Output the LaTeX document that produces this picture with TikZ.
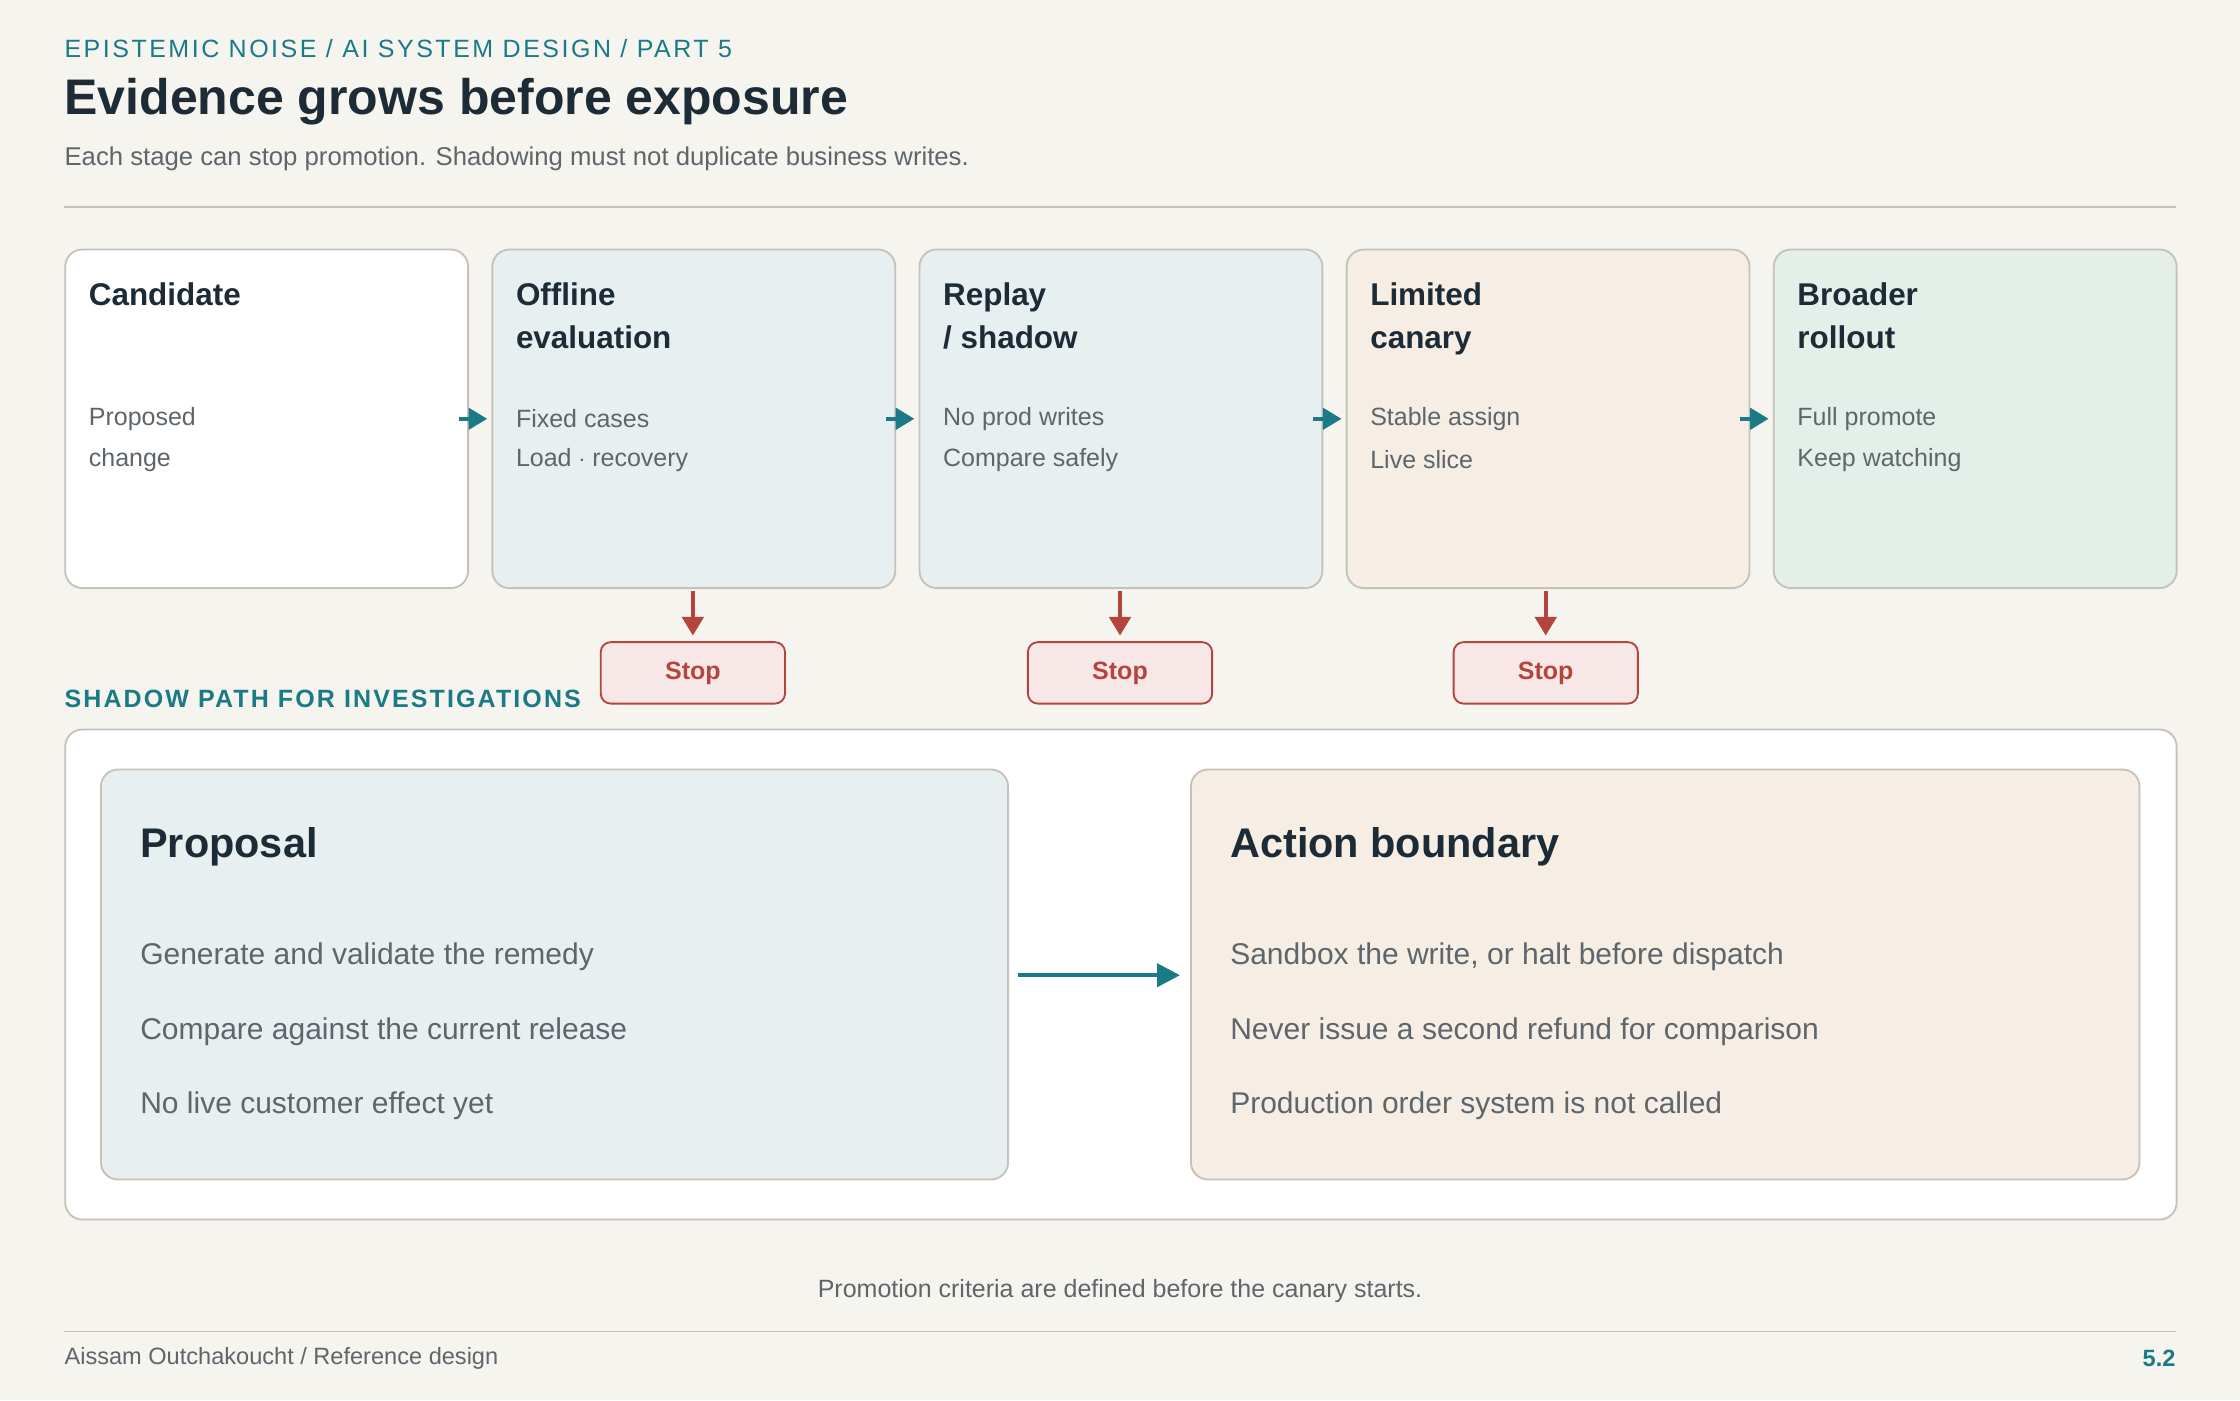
\documentclass[tikz,border=0pt]{standalone}
\usepackage{fontspec}
\setmainfont{Liberation Sans}
\usetikzlibrary{positioning,arrows.meta}
\definecolor{PageBg}{HTML}{F6F4EF}
\definecolor{InkDark}{HTML}{1C2B36}
\definecolor{InkGray}{HTML}{5E666B}
\definecolor{Teal}{HTML}{1A7A85}
\definecolor{StopRed}{HTML}{B5443E}
\definecolor{StopFill}{HTML}{F7E8E7}
\definecolor{Edge}{HTML}{C6C2BA}
\definecolor{FillBlue}{HTML}{E7EFF1}
\definecolor{FillSand}{HTML}{F6EDE4}
\definecolor{FillGreen}{HTML}{E5EFEA}
\begin{document}
\begin{tikzpicture}[x=1pt,y=-1pt,
stage/.style={draw=Edge,line width=1.3pt,rounded corners=12pt,minimum width=282pt,minimum height=237pt,anchor=north west,inner sep=0pt},
sttl/.style={anchor=north west,align=left,font=\fontsize{22}{30}\selectfont\bfseries,text=InkDark,inner sep=0pt},
stxt/.style={anchor=west,font=\fontsize{17.5}{20}\selectfont,text=InkGray,inner sep=0pt},
stop/.style={draw=StopRed,fill=StopFill,line width=1.3pt,rounded corners=7pt,minimum width=129pt,minimum height=43pt,font=\fontsize{17.5}{20}\selectfont\bfseries,text=StopRed},
flow/.style={Teal,line width=2.5pt,-{Triangle[length=13pt,width=15pt]}},
halt/.style={StopRed,line width=2.5pt,-{Triangle[length=13pt,width=15pt]}},
panel/.style={draw=Edge,line width=1.3pt,rounded corners=12pt,anchor=north west,inner sep=0pt},
ptxt/.style={anchor=west,font=\fontsize{21}{24}\selectfont,text=InkGray,inner sep=0pt}]
\fill[PageBg] (0,0) rectangle (1568,980);
\useasboundingbox (0,0) rectangle (1568,980);

% header
\node[anchor=west,inner sep=0pt,text=Teal,font=\fontsize{17.5}{20}\selectfont\addfontfeature{LetterSpace=10}] (kicker) at (45,34) {EPISTEMIC NOISE / AI SYSTEM DESIGN / PART 5};
\node[anchor=west,inner sep=0pt,text=InkDark,font=\fontsize{35}{40}\selectfont\bfseries] (title) at (45,71) {Evidence grows before exposure};
\node[anchor=west,inner sep=0pt,text=InkGray,font=\fontsize{18}{20}\selectfont] (sub) at (45,111) {Each stage can stop promotion. Shadowing must not duplicate business writes.};
\draw[Edge,line width=1.2pt] (45,145) -- (1523,145);

% stages
\foreach \i/\x/\c/\t/\a/\b in {1/45/white/Candidate/Proposed/change,
  2/344/FillBlue/{Offline\\evaluation}/Fixed cases/Load $\cdot$ recovery,
  3/643/FillBlue/{Replay\\/ shadow}/No prod writes/Compare safely,
  4/942/FillSand/{Limited\\canary}/Stable assign/Live slice,
  5/1241/FillGreen/{Broader\\rollout}/Full promote/Keep watching} {
  \node[stage,fill=\c] (s\i) at (\x,174) {};
  \node[sttl] at (\x+17,198) {\t};
  \node[stxt] at (\x+17,293) {\a};
  \node[stxt] at (\x+17,322) {\b};
}
\foreach \i/\j in {1/2,2/3,3/4,4/5} {
  \draw[flow] ([xshift=-7pt]s\i.east) -- ([xshift=-3pt]s\j.west);
}

% stops
\foreach \i/\x in {2/485,3/784,4/1082} {
  \node[stop] (k\i) at (\x,471) {\raisebox{-1.5pt}{Stop}};
  \draw[halt] (\x,414) -- ([yshift=4pt]k\i.north);
}

% shadow path
\node[anchor=west,inner sep=0pt,text=Teal,font=\fontsize{17.5}{20}\selectfont\bfseries\addfontfeature{LetterSpace=8.5}] (shadow) at (45,489) {SHADOW PATH FOR INVESTIGATIONS};
\node[panel,fill=white,minimum width=1478pt,minimum height=343pt] (frame) at (45,510) {};
\node[panel,fill=FillBlue,minimum width=635pt,minimum height=287pt] (prop) at (70,538) {};
\node[panel,fill=FillSand,minimum width=664pt,minimum height=287pt] (act) at (833,538) {};
\node[anchor=west,inner sep=0pt,text=InkDark,font=\fontsize{29}{32}\selectfont\bfseries] at (98,593) {Proposal};
\node[ptxt] at (98,670) {Generate and validate the remedy};
\node[ptxt] at (98,722) {Compare against the current release};
\node[ptxt] at (98,774) {No live customer effect yet};
\node[anchor=west,inner sep=0pt,text=InkDark,font=\fontsize{29}{32}\selectfont\bfseries] at (861,593) {Action boundary};
\node[ptxt] at (861,670) {Sandbox the write, or halt before dispatch};
\node[ptxt] at (861,722) {Never issue a second refund for comparison};
\node[ptxt] at (861,774) {Production order system is not called};
\draw[Teal,line width=3pt,-{Triangle[length=16pt,width=16pt]}] ([xshift=6pt,yshift=-0.5pt]prop.east) -- ([xshift=-7pt,yshift=-0.5pt]act.west);

% footer
\node[inner sep=0pt,text=InkGray,font=\fontsize{17.5}{20}\selectfont] (note) at (784,904) {Promotion criteria are defined before the canary starts.};
\draw[Edge,line width=1.2pt] (45,932) -- (1523,932);
\node[anchor=west,inner sep=0pt,text=InkGray,font=\fontsize{16.5}{20}\selectfont] (author) at (45,951) {Aissam Outchakoucht / Reference design};
\node[anchor=east,inner sep=0pt,text=Teal,font=\fontsize{16.5}{20}\selectfont\bfseries] (page) at (1523,951) {5.2};
\end{tikzpicture}
\end{document}
